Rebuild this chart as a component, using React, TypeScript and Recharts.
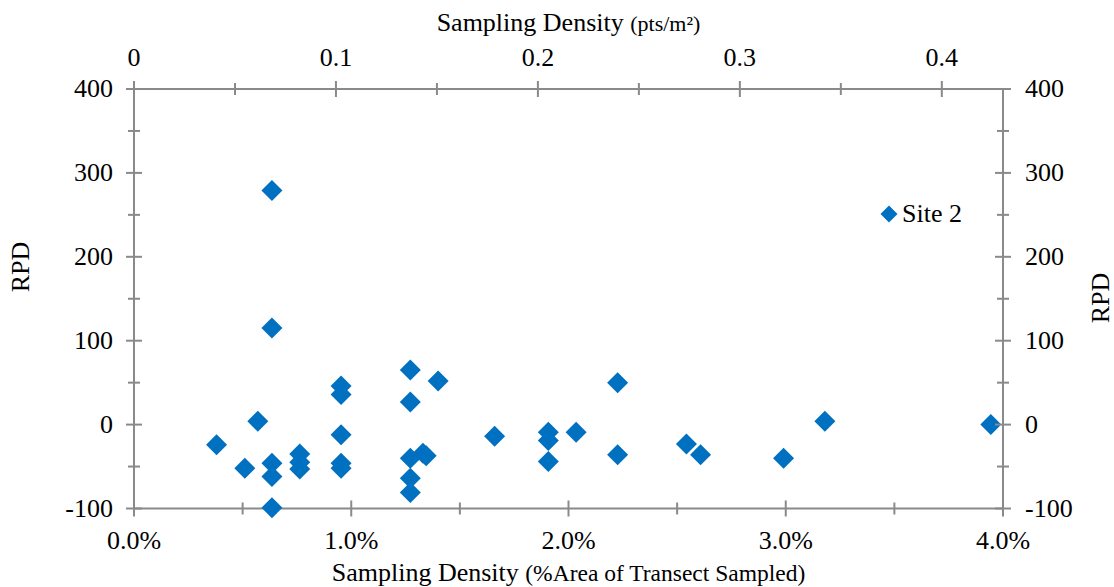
import { ScatterChart, Scatter, XAxis, YAxis, Legend } from 'recharts';

// sampling density (% of transect area) and RPD
const densityPct = [
  0.38, 0.51, 0.57, 0.635, 0.635, 0.635, 0.635, 0.635, 0.763, 0.763, 0.763, 0.953, 0.953, 0.953, 0.953, 0.953,
  1.272, 1.272, 1.272, 1.272, 1.272, 1.33, 1.345, 1.4, 1.66, 1.907, 1.907, 1.907, 2.035, 2.226, 2.226, 2.543,
  2.608, 2.99, 3.18, 3.944,
];
const rpd = [
  -24, -52, 4, 279, 115, -46, -62, -99, -35, -45, -53, 46, 36, -12, -46, -52,
  65, 27, -40, -64, -81, -34, -37, 52, -14, -9, -19, -44, -9, 50, -36, -23,
  -36, -40, 4, 0,
];

const pctTicks = [0, 0.5, 1, 1.5, 2, 2.5, 3, 3.5, 4];
const ptsTicks = [0, 0.05, 0.1, 0.15, 0.2, 0.25, 0.3, 0.35, 0.4];
const rpdTicks = [-100, -50, 0, 50, 100, 150, 200, 250, 300, 350, 400];

const seriesName = 'Site 2';

const data = densityPct.map((x, i) => ({ x, y: rpd[i] }));
const noData: { x: number; y: number }[] = [];

const FONT = '"Liberation Serif", "Times New Roman", serif';
const AXIS = '#8a8a8a';
const BLUE = '#0070c0';
const FS = 26;

const isMajor = (v: number, step: number) => Math.abs(v / step - Math.round(v / step)) < 1e-6;

const BottomTick = (props: any) => {
  const { x, y, payload } = props;
  const major = isMajor(payload.value, 1);
  const h = major ? 8 : 6;
  return (
    <g>
      <line x1={x} x2={x} y1={y - h} y2={y + h} stroke={AXIS} strokeWidth={2} />
      {major && (
        <text x={x} y={y + 40} textAnchor="middle" fontFamily={FONT} fontSize={FS} fill="#000">
          {payload.value.toFixed(1)}%
        </text>
      )}
    </g>
  );
};

const TopTick = (props: any) => {
  const { x, y, payload } = props;
  const major = isMajor(payload.value, 0.1);
  const h = major ? 8 : 6;
  return (
    <g>
      <line x1={x} x2={x} y1={y - h} y2={y + h} stroke={AXIS} strokeWidth={2} />
      {major && (
        <text x={x} y={y - 23} textAnchor="middle" fontFamily={FONT} fontSize={FS} fill="#000">
          {payload.value === 0 ? '0' : payload.value.toFixed(1)}
        </text>
      )}
    </g>
  );
};

const LeftTick = (props: any) => {
  const { x, y, payload } = props;
  const major = isMajor(payload.value, 100);
  const h = major ? 8 : 6;
  return (
    <g>
      <line x1={x - h} x2={x + h} y1={y} y2={y} stroke={AXIS} strokeWidth={2} />
      {major && (
        <text x={x - 21} y={y + 8} textAnchor="end" fontFamily={FONT} fontSize={FS} fill="#000">
          {payload.value}
        </text>
      )}
    </g>
  );
};

const RightTick = (props: any) => {
  const { x, y, payload } = props;
  const major = isMajor(payload.value, 100);
  const h = major ? 8 : 6;
  return (
    <g>
      <line x1={x - h} x2={x + h} y1={y} y2={y} stroke={AXIS} strokeWidth={2} />
      {major && (
        <text x={x + 22} y={y + 8} textAnchor="start" fontFamily={FONT} fontSize={FS} fill="#000">
          {payload.value}
        </text>
      )}
    </g>
  );
};

const Diamond = (props: any) => {
  const { cx, cy } = props;
  const r = 10.5;
  return <polygon points={`${cx},${cy - r} ${cx + r},${cy} ${cx},${cy + r} ${cx - r},${cy}`} fill={BLUE} />;
};

const BottomTitle = ({ viewBox }: any) => {
  const cx = viewBox.x + viewBox.width / 2;
  return (
    <text x={cx} y={viewBox.y + 72} textAnchor="middle" fontFamily={FONT} fill="#000">
      <tspan fontSize={FS}>Sampling Density </tspan>
      <tspan fontSize={23.5}>(%Area of Transect Sampled)</tspan>
    </text>
  );
};

const TopTitle = ({ viewBox }: any) => {
  const cx = viewBox.x + viewBox.width / 2;
  return (
    <text x={cx} y={31} textAnchor="middle" fontFamily={FONT} fill="#000">
      <tspan fontSize={FS}>Sampling Density </tspan>
      <tspan fontSize={22}>(pts/m²)</tspan>
    </text>
  );
};

const LeftTitle = () => (
  <text x={20} y={267} transform="rotate(-90, 20, 267)" textAnchor="middle" dominantBaseline="central"
    fontFamily={FONT} fontSize={FS} fill="#000">
    RPD
  </text>
);

const RightTitle = () => (
  <text x={1100} y={298} transform="rotate(-90, 1100, 298)" textAnchor="middle" dominantBaseline="central"
    fontFamily={FONT} fontSize={FS} fill="#000">
    RPD
  </text>
);

const LegendContent = () => (
  <div style={{ display: 'flex', alignItems: 'center', fontFamily: FONT, fontSize: FS, color: '#000', whiteSpace: 'nowrap' }}>
    <svg width={18} height={18} style={{ marginRight: 4 }}>
      <polygon points="9,0.5 17.5,9 9,17.5 0.5,9" fill={BLUE} />
    </svg>
    <span>{seriesName}</span>
  </div>
);

export default function App() {
  return (
    <div style={{ position: 'absolute', left: 0, top: 0, background: '#fff' }}>
      <ScatterChart width={1114} height={587} margin={{ top: 0, right: 0, bottom: 0, left: 0 }}>
        <XAxis
          xAxisId="pct"
          type="number"
          dataKey="x"
          orientation="bottom"
          domain={[0, 4]}
          ticks={pctTicks}
          interval={0}
          height={78.5}
          tickSize={0}
          tickMargin={0}
          tickLine={false}
          tick={<BottomTick />}
          axisLine={{ stroke: AXIS, strokeWidth: 2 }}
          label={<BottomTitle />}
        />
        <XAxis
          xAxisId="pts"
          type="number"
          dataKey="x"
          orientation="top"
          domain={[0, 0.4303]}
          allowDataOverflow
          ticks={ptsTicks}
          interval={0}
          height={89}
          tickSize={0}
          tickMargin={0}
          tickLine={false}
          tick={<TopTick />}
          axisLine={{ stroke: AXIS, strokeWidth: 2 }}
          label={<TopTitle />}
        />
        <YAxis
          yAxisId="left"
          type="number"
          dataKey="y"
          domain={[-100, 400]}
          ticks={rpdTicks}
          interval={0}
          width={134}
          tickSize={0}
          tickMargin={0}
          tickLine={false}
          tick={<LeftTick />}
          axisLine={{ stroke: AXIS, strokeWidth: 2 }}
          label={<LeftTitle />}
        />
        <YAxis
          yAxisId="right"
          type="number"
          dataKey="y"
          orientation="right"
          domain={[-100, 400]}
          allowDataOverflow
          ticks={rpdTicks}
          interval={0}
          width={111}
          tickSize={0}
          tickMargin={0}
          tickLine={false}
          tick={<RightTick />}
          axisLine={{ stroke: AXIS, strokeWidth: 2 }}
          label={<RightTitle />}
        />
        <Legend
          layout="horizontal"
          verticalAlign="middle"
          align="center"
          content={<LegendContent />}
          wrapperStyle={{ left: 880, top: 199, width: 'auto', right: 'auto' }}
        />
        <Scatter
          name={seriesName}
          data={data}
          xAxisId="pct"
          yAxisId="left"
          fill={BLUE}
          shape={<Diamond />}
          isAnimationActive={false}
        />
        {/* empty series so the secondary axes get their own scales */}
        <Scatter
          name="secondary"
          data={noData}
          xAxisId="pts"
          yAxisId="right"
          legendType="none"
          isAnimationActive={false}
        />
      </ScatterChart>
    </div>
  );
}
